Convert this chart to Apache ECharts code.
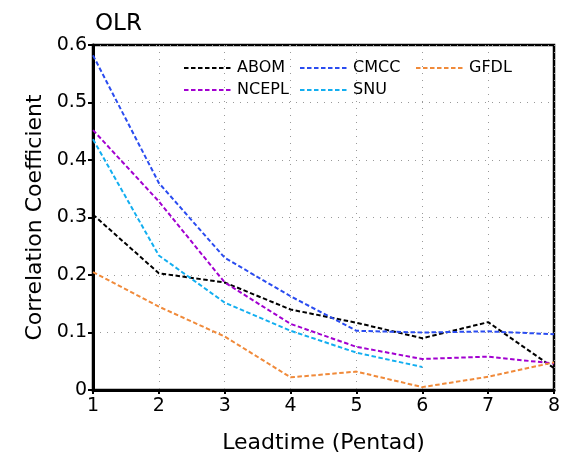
<!DOCTYPE html>
<html><head><meta charset="utf-8">
<script src="https://cdn.jsdelivr.net/npm/echarts@6/dist/echarts.min.js"></script>
<style>html,body{margin:0;padding:0;background:#fff}#c{width:567px;height:461px}</style>
</head><body><div id="c"></div>
<script>
const leadtimes = [1, 2, 3, 4, 5, 6, 7, 8];
const ABOM  = [0.305, 0.203, 0.187, 0.140, 0.117, 0.090, 0.118, 0.038];
const CMCC  = [0.582, 0.360, 0.230, 0.163, 0.103, 0.100, 0.102, 0.097];
const GFDL  = [0.205, 0.145, 0.093, 0.022, 0.032, 0.005, 0.023, 0.048];
const NCEPL = [0.452, 0.328, 0.187, 0.115, 0.075, 0.054, 0.058, 0.046];
const SNU   = [0.436, 0.234, 0.152, 0.103, 0.065, 0.040];
const yTicks = [0, 0.1, 0.2, 0.3, 0.4, 0.5, 0.6];

const colors = {ABOM:'#000000', CMCC:'#2a4cf0', GFDL:'#f08a3a', NCEPL:'#a200d0', SNU:'#12aef0'};
const font = 'DejaVu Sans, sans-serif';
function mk(name, arr){
  return {name, type:'line', data: arr.map((v,i)=>[leadtimes[i], v]), symbol:'none', showSymbol:false,
    lineStyle:{color:colors[name], width:2, type:[4.5,2.5]}, itemStyle:{color:colors[name]}};
}
function lg(left, names){
  return {orient:'vertical', left:left, top:60, itemWidth:48, itemHeight:14, itemGap:6,
    itemStyle:{opacity:0, borderWidth:0},
    lineStyle:{width:2, type:[4.5,2.5]},
    textStyle:{fontFamily:font, fontSize:16, color:'#000'}, padding:0, selectedMode:false, data:names};
}
const chart = echarts.init(document.getElementById('c'), null, {renderer:'canvas'});
chart.setOption({
  animation:false,
  title:{text:'OLR', left:90, top:8, textStyle:{fontFamily:font, fontSize:23, fontWeight:'normal', color:'#000'}},
  legend:[lg(183,['ABOM','NCEPL']), lg(299,['CMCC','SNU']), lg(415,['GFDL'])],
  grid:{left:93, right:13, top:45, bottom:71, show:true, borderColor:'#000', borderWidth:2.5},
  xAxis:{type:'value', min:1, max:8, interval:1,
    name:'Leadtime (Pentad)', nameLocation:'middle', nameGap:42,
    nameTextStyle:{fontFamily:font, fontSize:22, color:'#000'},
    axisLine:{lineStyle:{color:'#000', width:3}},
    axisTick:{show:true, length:4, lineStyle:{color:'#000', width:2}},
    axisLabel:{fontFamily:font, fontSize:19, color:'#000', margin:7},
    splitLine:{show:true, lineStyle:{color:'#999', width:1, type:[1,6]}}},
  yAxis:{type:'value', min:0, max:0.6, interval:0.1,
    name:'Correlation Coefficient', nameLocation:'middle', nameGap:47,
    nameTextStyle:{fontFamily:font, fontSize:22, color:'#000'},
    axisLine:{show:true, lineStyle:{color:'#000', width:3}},
    axisTick:{show:true, length:5, lineStyle:{color:'#000', width:2}},
    axisLabel:{fontFamily:font, fontSize:19, color:'#000', margin:6,
      formatter: v => { const t = yTicks.find(x=>Math.abs(x-v)<1e-9); return t===0 ? '0' : t.toFixed(1); }},
    splitLine:{show:true, lineStyle:{color:'#999', width:1, type:[1,6]}}},
  series:[mk('ABOM',ABOM), mk('NCEPL',NCEPL), mk('CMCC',CMCC), mk('SNU',SNU), mk('GFDL',GFDL)]
});
</script></body></html>
